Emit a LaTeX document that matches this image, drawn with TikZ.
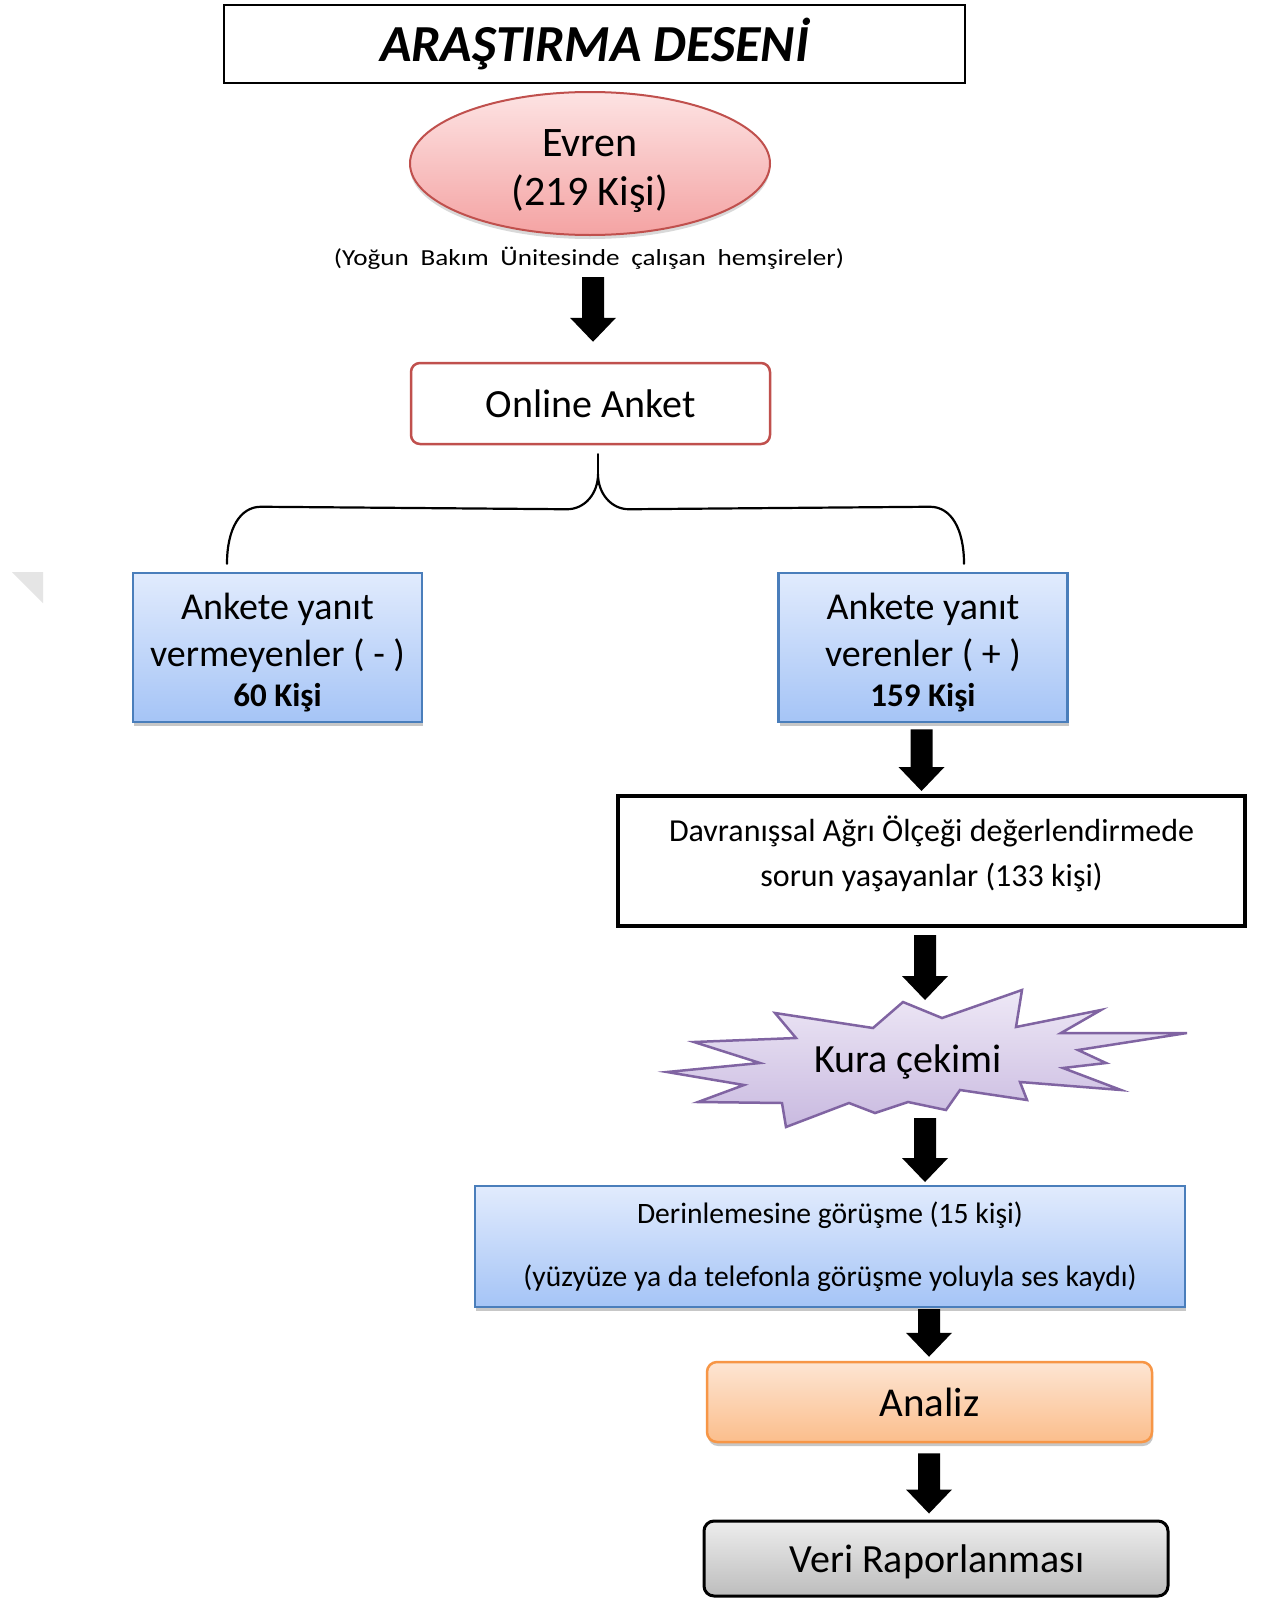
\documentclass[tikz,border=0pt]{standalone}
\usepackage{fontspec}
\setmainfont{Carlito}
\usetikzlibrary{shapes.geometric,shadows,calc}
\definecolor{redb}{HTML}{C0504D}
\definecolor{pinkt}{HTML}{FDE3E3}
\definecolor{pinkb}{HTML}{F4A3A3}
\definecolor{blueb}{HTML}{4A7EBB}
\definecolor{bluet}{HTML}{E1EBFD}
\definecolor{blueb2}{HTML}{A5C4F6}
\definecolor{purb}{HTML}{8064A2}
\definecolor{purt}{HTML}{EEE8F6}
\definecolor{purbt}{HTML}{C9BAE0}
\definecolor{orb}{HTML}{F79646}
\definecolor{ort}{HTML}{FDE5D3}
\definecolor{orbt}{HTML}{FBBE8C}
\definecolor{grt}{HTML}{EDEDED}
\definecolor{grb}{HTML}{BDBDBD}
\newcommand\myblockarrow[2]{%
  \fill[black] ($(#2 |- #1)+(-11,0)$) -- ($(#2)+(-11,-24)$) -- ($(#2)+(-23,-24)$) -- (#2)
    -- ($(#2)+(23,-24)$) -- ($(#2)+(11,-24)$) -- ($(#2 |- #1)+(11,0)$) -- cycle;}
\tikzset{
  boxbase/.style={draw, inner sep=0pt, align=center},
  textonly/.style={inner sep=0pt, align=center},
  softshadow/.style={drop shadow={shadow xshift=1pt, shadow yshift=-4pt, opacity=.22, fill=black}},
  titlebox/.style={boxbase, line width=2.5pt, minimum width=741pt, minimum height=78pt,
    font=\fontsize{52}{60}\selectfont\bfseries\itshape},
  evrenell/.style={draw, inner sep=0pt, ellipse, draw=redb, line width=2pt, top color=pinkt, bottom color=pinkb,
    minimum width=360pt, minimum height=143pt,
    drop shadow={shadow xshift=0pt, shadow yshift=-4pt, opacity=.15, fill=black}},
  evrentxt/.style={textonly, font=\fontsize{42}{49}\selectfont},
  subtxt/.style={inner sep=0pt, font=\fontsize{23}{27}\selectfont},
  onlbox/.style={boxbase, draw=redb, line width=2.5pt, rounded corners=9pt, fill=white,
    minimum width=359pt, minimum height=81pt, font=\fontsize{40}{48}\selectfont},
  bluebox/.style={draw, inner sep=0pt, draw=blueb, line width=2.5pt, top color=bluet, bottom color=blueb2,
    minimum width=289pt, minimum height=149pt, softshadow},
  bluetxt/.style={textonly, font=\fontsize{38}{47}\selectfont},
  davbox/.style={boxbase, line width=4pt, minimum width=627pt, minimum height=130pt},
  davtxt/.style={textonly, font=\fontsize{32}{45}\selectfont},
  burst/.style={draw=purb, line width=2.5pt, top color=purt, bottom color=purbt, line join=miter},
  kuratxt/.style={inner sep=0pt, font=\fontsize{40}{48}\selectfont},
  derbox/.style={boxbase, draw=blueb, line width=2pt, top color=bluet, bottom color=blueb2,
    minimum width=710pt, minimum height=121pt, softshadow, font=\fontsize{29.6}{63}\selectfont},
  anabox/.style={boxbase, draw=orb, line width=2.5pt, rounded corners=10pt, top color=ort, bottom color=orbt,
    minimum width=445pt, minimum height=80pt, softshadow, font=\fontsize{41}{49}\selectfont},
  veribox/.style={draw=black, inner sep=0pt, line width=3pt, rounded corners=10pt, top color=grt, bottom color=grb,
    minimum width=464pt, minimum height=75pt},
  veritxt/.style={textonly, font=\fontsize{40}{48}\selectfont},
  bracestyle/.style={line width=2.2pt, line cap=round}
}
\begin{document}
\begin{tikzpicture}[x=1pt,y=-1pt]
\useasboundingbox (0,0) rectangle (1264,1598);
\fill[white] (0,0) rectangle (1264,1598);
\fill[black!10] (12,572) -- (43,572) -- (43,603) -- cycle;

\node[titlebox] (title) at (594.5,44) {ARAŞTIRMA DESENİ};
\node[evrenell] (ell) at (590,163.5) {};
\node[evrentxt] (evt) at ($(ell.center)+(0,8)$) {Evren\\(219 Kişi)};
\node[subtxt] (sub) at (589,258) {\scalebox{1.18}[1]{(Yoğun\hspace{10pt}Bakım\hspace{10pt}Ünitesinde\hspace{10pt}çalışan\hspace{10pt}hemşireler)}};
\node[onlbox] (onl) at (590.5,403.5) {Online Anket};
\node[bluebox] (lbox) at (277.5,647.5) {};
\node[bluetxt] (lboxt) at ($(lbox.center)+(0,5)$) {Ankete yanıt\\vermeyenler ( - )\\[-7pt]{\bfseries\fontsize{33}{40}\selectfont 60 Kişi}};
\node[bluebox] (rbox) at (923,647.5) {};
\node[bluetxt] (rboxt) at ($(rbox.center)+(0,5)$) {Ankete yanıt\\verenler ( + )\\[-7pt]{\bfseries\fontsize{33}{40}\selectfont 159 Kişi}};
\node[davbox] (dav) at (931.5,861) {};
\node[davtxt] (davt) at ($(dav.center)+(0,-7.5)$) {Davranışsal Ağrı Ölçeği değerlendirmede\\sorun yaşayanlar (133 kişi)};
\draw[burst] (903,1002) -- (942,1018) -- (1022,990) -- (1016,1027) -- (1101,1010) -- (1061,1033)
  -- (1187,1033) -- (1078,1050) -- (1106,1063) -- (1063,1068) -- (1121,1090) -- (1020,1082)
  -- (1027,1100) -- (960,1090) -- (946,1110) -- (908,1102) -- (875,1113) -- (849,1103)
  -- (786,1127) -- (782,1103) -- (698,1102) -- (744,1085) -- (667,1072) -- (760,1063)
  -- (694,1042) -- (796,1038) -- (775,1013) -- (873,1028) -- cycle;
\node[kuratxt] (kura) at (908,1062) {Kura çekimi};
\node[derbox] (der) at (830,1246.5) {Derinlemesine görüşme (15 kişi)\\(yüzyüze ya da telefonla görüşme yoluyla ses kaydı)};
\node[anabox] (ana) at (929.5,1402) {Analiz};
\node[veribox] (veri) at (936,1558.5) {};
\node[veritxt] (verit) at ($(veri.center)+(1,3)$) {Veri Raporlanması};

% brace from Online Anket to the two answer groups
\coordinate (bstem) at ($(onl.south)+(7.5,9)$);
\coordinate (bcusp) at ($(onl.south)+(7.5,29)$);
\coordinate (bl) at ($(lbox.north)+(-50.5,-8)$);
\coordinate (br) at ($(rbox.north)+(41,-8)$);
\draw[bracestyle] (bstem) -- (bcusp);
\draw[bracestyle] (bl) .. controls ($(bl)+(0,-35)$) and ($(bl)+(13,-57)$) .. ($(bl)+(34,-57)$)
  -- ($(bcusp)+(-31,35)$) .. controls ($(bcusp)+(-13,35)$) and ($(bcusp)+(0,19)$) .. (bcusp)
  .. controls ($(bcusp)+(0,19)$) and ($(bcusp)+(13,35)$) .. ($(bcusp)+(31,35)$)
  -- ($(br)+(-34,-57)$) .. controls ($(br)+(-13,-57)$) and ($(br)+(0,-35)$) .. (br);

% block arrows
\coordinate (a1s) at ($(ell.south)+(3,41)$);   \coordinate (a1e) at ($(onl.north)+(2.5,-20)$);
\coordinate (a2s) at ($(rbox.south)+(-1.5,6)$); \coordinate (a2e) at ($(dav.north)+(-10,-3)$);
\coordinate (a3s) at ($(dav.south)+(-6.5,7)$);  \coordinate (a3e) at ($(kura)+(17,-62)$);
\coordinate (a4s) at ($(kura)+(17,56)$);        \coordinate (a4e) at ($(der.north)+(95,-3)$);
\coordinate (a5s) at ($(der.south)+(99,1)$);    \coordinate (a5e) at ($(ana.north)+(-0.5,-4)$);
\coordinate (a6s) at ($(ana.south)+(-0.5,10)$); \coordinate (a6e) at ($(veri.north)+(-7,-6)$);
\myblockarrow{a1s}{a1e}
\myblockarrow{a2s}{a2e}
\myblockarrow{a3s}{a3e}
\myblockarrow{a4s}{a4e}
\myblockarrow{a5s}{a5e}
\myblockarrow{a6s}{a6e}
\end{tikzpicture}
\end{document}
